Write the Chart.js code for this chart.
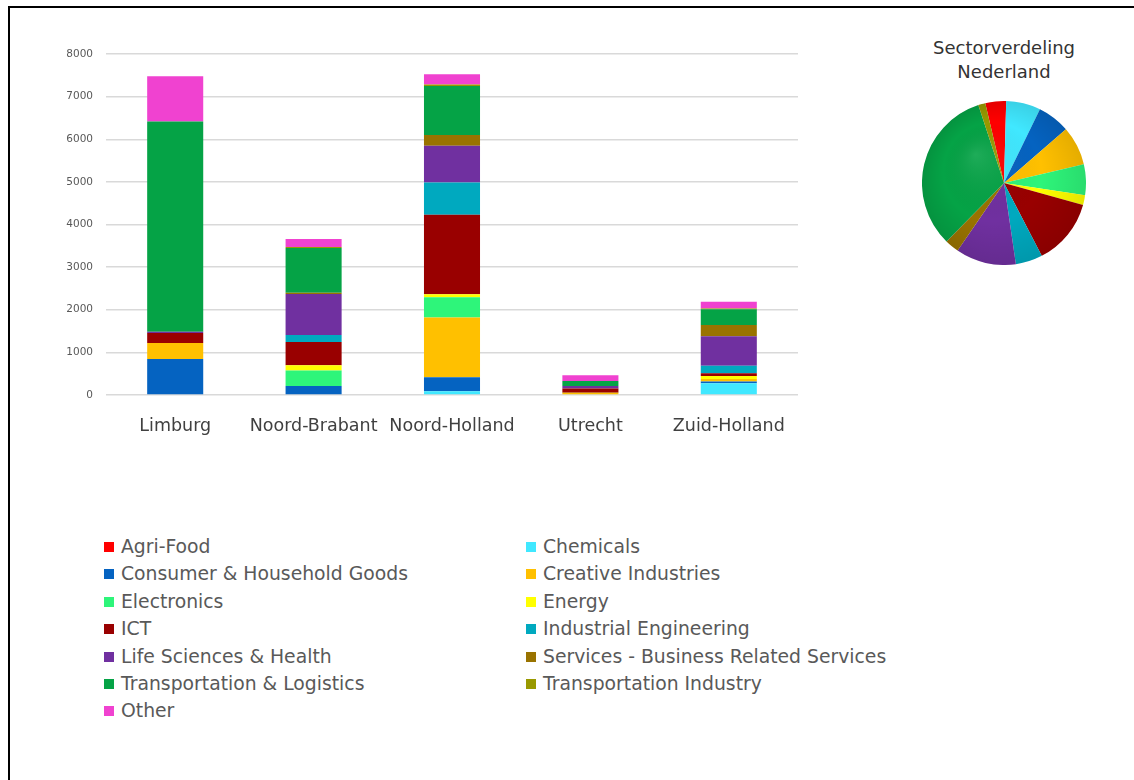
<!DOCTYPE html>
<html>
<head>
<meta charset="utf-8">
<script src="https://cdn.jsdelivr.net/npm/chart.js@4/dist/chart.umd.min.js"></script>
<style>
    body { margin: 0; background: #ffffff; width: 1134px; height: 780px; overflow: hidden; position: relative; font-family: 'DejaVu Sans', sans-serif; }
    .frame { position: absolute; left: 8px; top: 6px; right: -10px; bottom: -10px; border-left: 2px solid #000; border-top: 2px solid #000; }
    #bar-wrap { position: absolute; left: 0; top: 0; }
    #pie-wrap { position: absolute; left: 922px; top: 101px; }
    #pie-title { position: absolute; left: 904px; top: 36px; width: 200px; text-align: center; font-size: 18px; line-height: 24px; color: #333333; }
    .legend-item { position: absolute; font-size: 18.8px; color: #595959; white-space: nowrap; line-height: 22px; }
    .legend-box { position: absolute; width: 10px; height: 10px; top: 6px; left: 0; }
    .legend-text { position: absolute; left: 17px; top: 0; }
</style>
</head>
<body>
<div class="frame"></div>
<div id="bar-wrap"><canvas id="bars" width="830" height="450"></canvas></div>
<div id="pie-title">Sectorverdeling<br>Nederland</div>
<div id="pie-wrap"><canvas id="pie" width="164" height="164"></canvas></div>
<div id="legend"></div>

<script>
// provinces on the x axis
const provinces = ['Limburg', 'Noord-Brabant', 'Noord-Holland', 'Utrecht', 'Zuid-Holland'];

// sectors, in stacking / legend order
const sectors = [
    'Agri-Food', 'Chemicals', 'Consumer & Household Goods', 'Creative Industries',
    'Electronics', 'Energy', 'ICT', 'Industrial Engineering',
    'Life Sciences & Health', 'Services - Business Related Services',
    'Transportation & Logistics', 'Transportation Industry', 'Other'
];
const sectorColors = [
    '#ff0000', '#40e8ff', '#0563c1', '#ffc000',
    '#2ef57a', '#ffff00', '#990000', '#00a9bf',
    '#7030a0', '#997300', '#05a346', '#999900', '#f042d0'
];

// values per sector, one entry per province
const agriFood        = [0, 0, 0, 0, 0];
const chemicals       = [0, 0, 90, 0, 275];
const consumerGoods   = [843, 213, 327, 0, 40];
const creative        = [377, 0, 1402, 45, 60];
const electronics     = [0, 362, 472, 0, 0];
const energy          = [0, 125, 71, 10, 70];
const ict             = [237, 544, 1866, 100, 65];
const industrialEng   = [0, 165, 756, 0, 175];
const lifeSciences    = [25, 961, 866, 55, 695];
const businessServices = [0, 30, 252, 0, 260];
const logistics       = [4935, 1050, 1150, 120, 370];
const transportIndustry = [0, 25, 30, 0, 20];
const other           = [1063, 185, 240, 135, 160];

const sectorValues = [
    agriFood, chemicals, consumerGoods, creative, electronics, energy, ict,
    industrialEng, lifeSciences, businessServices, logistics, transportIndustry, other
];

// y axis
const yMax = 8000;
const yStep = 1000;

// share per sector for the whole country (percent), 'Other' not shown
const pieShares = [4.1, 6.8, 6.4, 7.7, 6.1, 1.9, 13.1, 5.3, 11.9, 2.8, 32.6, 1.4, 0];
const pieStartAngle = -13.2;

// ---------- stacked bar chart ----------
const barDatasets = sectors.map((name, i) => ({
    label: name,
    data: sectorValues[i],
    backgroundColor: sectorColors[i],
    borderWidth: 0,
    categoryPercentage: 1,
    barPercentage: 0.405
}));

new Chart(document.getElementById('bars'), {
    type: 'bar',
    data: { labels: provinces, datasets: barDatasets },
    options: {
        responsive: false,
        animation: false,
        layout: { padding: { top: 54, right: 32, left: 0, bottom: 0 } },
        plugins: {
            legend: { display: false },
            tooltip: { enabled: false }
        },
        scales: {
            x: {
                stacked: true,
                grid: { display: false, drawTicks: false },
                border: { display: false },
                ticks: {
                    color: '#404040',
                    font: { family: 'DejaVu Sans', size: 17.5 },
                    padding: 21,
                    autoSkip: false,
                    maxRotation: 0,
                    minRotation: 0
                },
                afterFit: scale => { scale.height = 55; }
            },
            y: {
                stacked: true,
                min: 0,
                max: yMax,
                grid: { color: '#d9d9d9', lineWidth: 1.5, drawTicks: false },
                border: { display: false },
                ticks: {
                    stepSize: yStep,
                    color: '#595959',
                    font: { family: 'DejaVu Sans', size: 10.5 },
                    padding: 13,
                    callback: value => String(value)
                },
                afterFit: scale => { scale.width = 106; }
            }
        }
    }
});

// ---------- pie chart ----------
// soft shading over the pie, like the gradient fill in the original
const pieShade = {
    id: 'pieShade',
    afterDatasetsDraw(chart) {
        const arc = chart.getDatasetMeta(0).data[0];
        if (!arc) return;
        const { x, y, outerRadius } = arc;
        const ctx = chart.ctx;
        const g = ctx.createRadialGradient(x - outerRadius * 0.35, y - outerRadius * 0.35, 0, x, y, outerRadius);
        g.addColorStop(0, 'rgba(255,255,255,0.1)');
        g.addColorStop(0.6, 'rgba(0,0,0,0)');
        g.addColorStop(1, 'rgba(0,0,0,0.1)');
        ctx.save();
        ctx.beginPath();
        ctx.arc(x, y, outerRadius, 0, Math.PI * 2);
        ctx.fillStyle = g;
        ctx.fill();
        ctx.restore();
    }
};

new Chart(document.getElementById('pie'), {
    type: 'pie',
    data: {
        labels: sectors,
        datasets: [{
            data: pieShares,
            backgroundColor: sectorColors,
            borderWidth: 0
        }]
    },
    options: {
        responsive: false,
        animation: false,
        rotation: pieStartAngle,
        plugins: {
            legend: { display: false },
            tooltip: { enabled: false }
        }
    },
    plugins: [pieShade]
});

// ---------- legend (two columns) ----------
const legend = document.getElementById('legend');
sectors.forEach((name, i) => {
    const col = i % 2;
    const row = Math.floor(i / 2);
    const item = document.createElement('div');
    item.className = 'legend-item';
    item.style.left = (col === 0 ? 104 : 526) + 'px';
    item.style.top = (547 - 11 + row * 27.4) + 'px';
    item.innerHTML = `<span class="legend-box" style="background:${sectorColors[i]}"></span><span class="legend-text">${name}</span>`;
    legend.appendChild(item);
});
</script>
</body>
</html>
